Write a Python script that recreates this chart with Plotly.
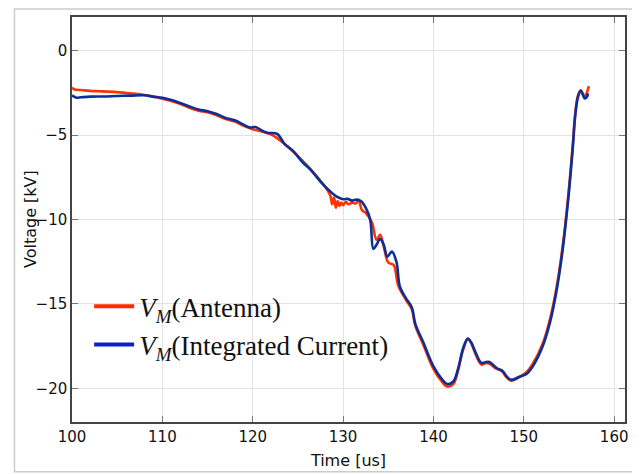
import plotly.graph_objects as go

# Integrated current series (blue)
t_blue = [100.0, 100.5, 101.0, 102.0, 103.5, 105.0, 106.5, 108.0, 109.0, 110.0,
          111.0, 112.0, 113.0, 114.0, 115.0, 116.0, 117.0, 118.0, 119.0, 119.7,
          120.3, 121.0, 121.6, 122.7, 123.5, 124.5, 125.5, 126.5, 127.5, 128.5,
          129.3, 130.0, 130.5, 131.0, 131.5, 132.0, 132.5, 133.0, 133.35, 133.7,
          134.1, 134.5, 134.9, 135.4, 135.9, 136.3, 137.0, 137.6, 138.0, 138.9,
          140.0, 141.0, 141.5, 142.2, 142.7, 143.3, 143.8, 144.2, 144.6, 145.3,
          145.8, 146.2, 147.0, 147.7, 148.1, 148.6, 149.6, 150.3, 151.0, 152.1,
          152.9, 153.6, 154.3, 154.9, 155.4, 155.7, 156.0, 156.3, 156.55, 156.75,
          157.0, 157.1]
v_blue = [-2.65, -2.78, -2.76, -2.72, -2.71, -2.68, -2.66, -2.64, -2.72, -2.79,
          -2.92, -3.10, -3.30, -3.48, -3.58, -3.75, -3.98, -4.12, -4.38, -4.55,
          -4.52, -4.72, -4.86, -4.92, -5.50, -5.95, -6.60, -7.10, -7.75, -8.30,
          -8.65, -8.80, -8.78, -8.88, -8.82, -8.92, -9.30, -10.0, -11.75, -11.5,
          -11.15, -11.5, -12.2, -11.9, -12.5, -14.0, -14.7, -15.2, -16.2, -17.3,
          -18.7, -19.5, -19.75, -19.6, -18.9, -17.6, -17.05, -17.3, -17.8, -18.5,
          -18.45, -18.45, -18.8, -19.0, -19.3, -19.5, -19.3, -19.15, -18.7, -17.5,
          -16.1, -14.3, -11.8, -8.9, -5.9, -3.8, -2.73, -2.38, -2.63, -2.83,
          -2.73, -2.53]

# Antenna series (red)
t_red = [100.0, 100.3, 101.0, 102.0, 103.0, 104.0, 105.0, 106.0, 107.0, 108.0,
         109.0, 110.0, 111.0, 112.0, 113.0, 114.0, 115.0, 116.0, 117.0, 118.0,
         119.0, 120.0, 121.0, 122.0, 123.0, 124.0, 125.0, 126.0, 127.0, 128.0,
         128.6, 128.8, 129.0, 129.2, 129.4, 129.6, 129.8, 130.0, 130.3, 130.6,
         131.0, 131.4, 131.7, 132.1, 132.5, 133.2, 133.7, 134.1, 134.5, 135.0,
         135.6, 136.1, 137.0, 137.6, 138.0, 138.9, 140.0, 141.0, 141.5, 142.2,
         142.7, 143.3, 143.8, 144.2, 144.6, 145.3, 145.8, 146.2, 147.0, 147.5,
         148.1, 148.6, 149.6, 150.3, 151.0, 152.1, 152.9, 153.6, 154.3, 154.9,
         155.4, 155.7, 156.0, 156.3, 156.55, 156.75, 157.0, 157.2]
v_red = [-2.18, -2.30, -2.33, -2.38, -2.40, -2.42, -2.45, -2.50, -2.55, -2.62,
         -2.72, -2.85, -2.98, -3.15, -3.38, -3.55, -3.65, -3.82, -4.05, -4.20,
         -4.45, -4.65, -4.78, -4.95, -5.30, -5.75, -6.25, -6.80, -7.40, -8.05,
         -8.60, -9.10, -8.70, -9.30, -8.90, -9.20, -9.00, -9.15, -8.95, -9.10,
         -9.00, -9.05, -8.85, -9.45, -9.60, -10.2, -11.2, -10.9, -11.6, -12.55,
         -12.7, -13.9, -14.8, -15.3, -16.3, -17.45, -18.85, -19.65, -19.9, -19.75,
         -19.0, -17.7, -17.1, -17.35, -17.9, -18.6, -18.5, -18.55, -18.85, -18.95,
         -19.35, -19.55, -19.3, -19.05, -18.55, -17.35, -15.9, -14.1, -11.6, -8.7,
         -5.7, -3.7, -2.65, -2.35, -2.55, -2.75, -2.45, -2.1]

x_ticks = [100, 110, 120, 130, 140, 150, 160]
y_ticks = [0, -5, -10, -15, -20]

red_plot = "#FF3300"
blue_plot = "#0B2E98"
red_leg = "#FF2A00"
blue_leg = "#0A22C4"

sub = '<sub><span style="font-size:19px"><i>M</i></span></sub>'

fig = go.Figure()
fig.add_trace(go.Scatter(x=t_red, y=v_red, mode="lines", showlegend=False,
                         line=dict(color=red_plot, width=2.6), line_shape="spline"))
fig.add_trace(go.Scatter(x=t_blue, y=v_blue, mode="lines", showlegend=False,
                         line=dict(color=blue_plot, width=2.6), line_shape="spline"))
# legend entries
fig.add_trace(go.Scatter(x=[None], y=[None], mode="lines",
                         name="<i>V</i>" + sub + "(Antenna)",
                         line=dict(color=red_leg, width=4)))
fig.add_trace(go.Scatter(x=[None], y=[None], mode="lines",
                         name="<i>V</i>" + sub + "(Integrated Current)",
                         line=dict(color=blue_leg, width=4)))

axis_common = dict(
    showline=True, linecolor="#444444", linewidth=1.5, mirror="allticks",
    ticks="inside", ticklen=6, tickcolor="#777777", tickwidth=1.2,
    showgrid=True, gridcolor="#E3E3E3", gridwidth=1, zeroline=False,
    automargin=False,
    tickfont=dict(family="DejaVu Sans", size=15, color="#111111"),
)

fig.update_xaxes(range=[100, 161.2], tickvals=x_ticks, ticktext=[str(v) for v in x_ticks],
                 title=dict(text="Time [us]", font=dict(family="DejaVu Sans", size=16, color="#111111"),
                            standoff=10),
                 **axis_common)
fig.update_yaxes(range=[-22, 2], tickvals=y_ticks,
                 ticktext=["0", "\u22125", "\u221210", "\u221215", "\u221220"],
                 **axis_common)

# page body has an 8px margin, so the figure is drawn 8px in from the corner
fig.update_layout(
    width=632, height=466,
    margin=dict(l=63.5, r=15, t=9, b=52),
    paper_bgcolor="white", plot_bgcolor="white",
    legend=dict(x=0.031, y=0.345, xanchor="left", yanchor="top",
                bgcolor="rgba(0,0,0,0)", borderwidth=0,
                font=dict(family="Liberation Serif", size=27, color="#111111"),
                itemwidth=40, tracegroupgap=0),
    annotations=[dict(text="Voltage [kV]", xref="paper", yref="paper",
                      x=-0.075, y=0.5, xanchor="center", yanchor="middle",
                      textangle=-90, showarrow=False,
                      font=dict(family="DejaVu Sans", size=16, color="#111111"))],
    shapes=[dict(type="rect", xref="paper", yref="paper",
                 x0=-0.104, x1=1.1, y0=-0.123, y1=1.02,
                 line=dict(color="#CCCCCC", width=1.5), layer="below")],
)

fig.write_html("out.html")
